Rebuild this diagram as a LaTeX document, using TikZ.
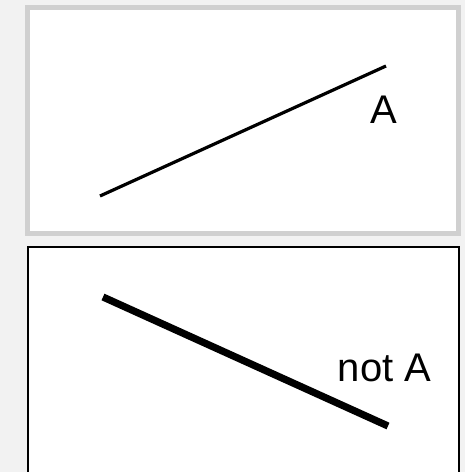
\documentclass[tikz,border=0pt]{standalone}
\usepackage{fontspec}
\setmainfont{Liberation Sans}
\usetikzlibrary{positioning}
\definecolor{pageGray}{HTML}{F2F2F2}
\definecolor{frameGray}{HTML}{D0D0D0}

\begin{document}
\begin{tikzpicture}[
      x=0.75pt, y=-0.75pt,
      every node/.style={font=\fontsize{30}{34}\selectfont, inner sep=0pt},
      panelA/.style={draw=frameGray, line width=3.75pt, fill=white},
      panelB/.style={draw=black, line width=1.5pt, fill=white},
      thinline/.style={line width=2.4pt},
      thickline/.style={line width=5.4pt}
    ]
    % --- page ---
    \fill[pageGray] (0,0) rectangle (465,472);
    \useasboundingbox (0,0) rectangle (465,472);

    % --- top panel ---
    \draw[panelA] (27.5,7.5) rectangle (458.5,233);
    \coordinate (a1) at (100,196);
    \coordinate (a2) at (386,66);
    \draw[thinline] (a1) -- (a2);
    \node[anchor=base] (labA) at (384,123) {A};

    % --- bottom panel ---
    \draw[panelB] (28,247) rectangle (459,480);
    \coordinate (b1) at (103,297);
    \coordinate (b2) at (388,426);
    \draw[thickline] (b1) -- (b2);
    \node[anchor=base] (labNotA) at (384.5,381) {not A};
  \end{tikzpicture}
\end{document}
